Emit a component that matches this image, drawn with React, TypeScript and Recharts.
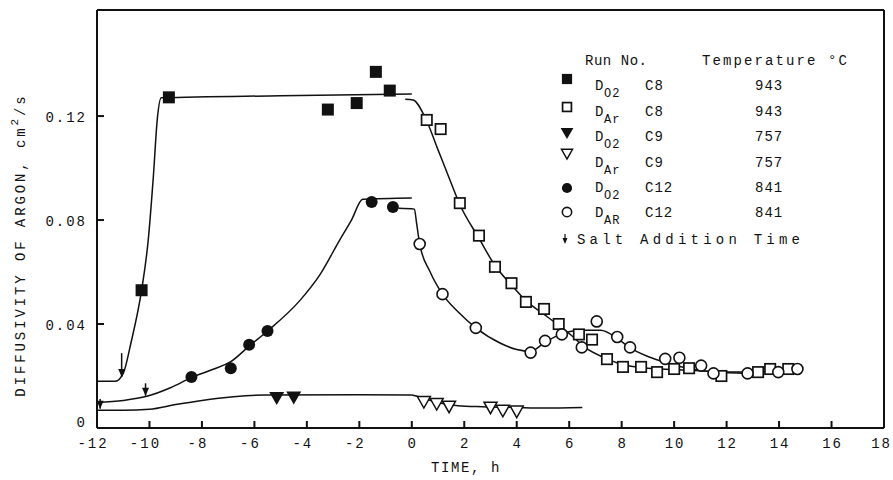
import React from 'react';
import { ComposedChart, Line, Scatter, XAxis, YAxis, Legend } from 'recharts';

// axis ticks
const xTicks = [-12, -10, -8, -6, -4, -2, 0, 2, 4, 6, 8, 10, 12, 14, 16, 18];
const topTicks = [-10, -8, -6, -4, -2, 0, 2, 4, 6, 8, 10, 12, 14, 16];
const yTicks = [0, 0.04, 0.08, 0.12];
const rightTicks = [0.04, 0.08, 0.12];

// measured points (time h, diffusivity cm2/s)
const c8O2Points = [
  { x: -10.3, y: 0.053 },
  { x: -9.26, y: 0.1272 },
  { x: -3.2, y: 0.1225 },
  { x: -2.1, y: 0.125 },
  { x: -1.37, y: 0.137 },
  { x: -0.84, y: 0.1298 },
];
const c8ArPoints = [
  { x: 0.57, y: 0.1185 },
  { x: 1.1, y: 0.115 },
  { x: 1.83, y: 0.0865 },
  { x: 2.56, y: 0.074 },
  { x: 3.17, y: 0.062 },
  { x: 3.8, y: 0.0557 },
  { x: 4.35, y: 0.0485 },
  { x: 5.04, y: 0.0458 },
  { x: 5.6, y: 0.04 },
  { x: 6.37, y: 0.036 },
  { x: 6.87, y: 0.034 },
  { x: 7.44, y: 0.0265 },
  { x: 8.05, y: 0.0235 },
  { x: 8.74, y: 0.0235 },
  { x: 9.35, y: 0.0215 },
  { x: 10.0, y: 0.0227 },
  { x: 10.57, y: 0.023 },
  { x: 11.8, y: 0.02 },
  { x: 13.2, y: 0.0215 },
  { x: 13.66, y: 0.0227 },
  { x: 14.35, y: 0.0227 },
];
const c9O2Points = [
  { x: -5.15, y: 0.0115 },
  { x: -4.5, y: 0.0117 },
];
const c9ArPoints = [
  { x: 0.46, y: 0.01 },
  { x: 0.95, y: 0.0092 },
  { x: 1.42, y: 0.0082 },
  { x: 3.0, y: 0.0078 },
  { x: 3.47, y: 0.0066 },
  { x: 4.0, y: 0.0063 },
];
const c12O2Points = [
  { x: -8.4, y: 0.0196 },
  { x: -6.9, y: 0.023 },
  { x: -6.2, y: 0.032 },
  { x: -5.5, y: 0.0373 },
  { x: -1.53, y: 0.0869 },
  { x: -0.72, y: 0.085 },
];
const c12ArPoints = [
  { x: 0.3, y: 0.0708 },
  { x: 1.17, y: 0.0515 },
  { x: 2.44, y: 0.0385 },
  { x: 4.53, y: 0.029 },
  { x: 5.08, y: 0.0335 },
  { x: 5.72, y: 0.036 },
  { x: 6.48, y: 0.031 },
  { x: 7.05, y: 0.041 },
  { x: 7.83, y: 0.035 },
  { x: 8.32, y: 0.031 },
  { x: 9.66, y: 0.0266 },
  { x: 10.2, y: 0.027 },
  { x: 11.03, y: 0.024 },
  { x: 11.5, y: 0.021 },
  { x: 12.8, y: 0.021 },
  { x: 13.97, y: 0.0215 },
  { x: 14.7, y: 0.0227 },
];

// hand-drawn fit curves
const c8O2Curve = [
  { x: -12, y: 0.0180 }, { x: -11.3, y: 0.0180 }, { x: -11.0, y: 0.021 },
  { x: -10.7, y: 0.033 }, { x: -10.3, y: 0.053 }, { x: -10.05, y: 0.072 },
  { x: -9.85, y: 0.097 }, { x: -9.7, y: 0.119 }, { x: -9.55, y: 0.127 },
  { x: -5, y: 0.1278 }, { x: 0, y: 0.1285 },
];
const c8ArCurve = [
  { x: -0.25, y: 0.1265 }, { x: 0.05, y: 0.1262 }, { x: 0.55, y: 0.1185 },
  { x: 1.0, y: 0.107 }, { x: 1.45, y: 0.0955 }, { x: 1.83, y: 0.086 },
  { x: 2.56, y: 0.073 }, { x: 3.17, y: 0.0625 }, { x: 3.8, y: 0.055 },
  { x: 4.4, y: 0.0485 }, { x: 5.0, y: 0.044 }, { x: 5.6, y: 0.0395 },
  { x: 6.1, y: 0.0355 }, { x: 6.6, y: 0.031 }, { x: 7.4, y: 0.0268 },
  { x: 8.0, y: 0.0245 }, { x: 9.0, y: 0.023 }, { x: 10.0, y: 0.0225 },
  { x: 11.0, y: 0.022 }, { x: 12.5, y: 0.0215 }, { x: 14.5, y: 0.022 },
];
const c9O2Curve = [
  { x: -12, y: 0.0068 }, { x: -11, y: 0.0068 }, { x: -10, y: 0.0072 },
  { x: -9, y: 0.009 }, { x: -8, y: 0.0106 }, { x: -6.8, y: 0.012 },
  { x: -5.6, y: 0.0127 }, { x: -2, y: 0.0128 }, { x: 0, y: 0.0127 },
];
const c9ArCurve = [
  { x: 0, y: 0.0127 }, { x: 0.5, y: 0.0113 }, { x: 1.0, y: 0.0098 },
  { x: 1.76, y: 0.0086 }, { x: 2.7, y: 0.0082 }, { x: 4.0, y: 0.0079 },
  { x: 5.0, y: 0.0077 }, { x: 6.5, y: 0.0079 },
];
const c12O2Curve = [
  { x: -12, y: 0.0098 }, { x: -11, y: 0.0106 }, { x: -10.1, y: 0.0122 },
  { x: -9.2, y: 0.0155 }, { x: -8.4, y: 0.0194 }, { x: -7.6, y: 0.0225 },
  { x: -6.9, y: 0.0255 }, { x: -6.2, y: 0.0315 }, { x: -5.5, y: 0.0373 },
  { x: -4.27, y: 0.049 }, { x: -3.5, y: 0.059 }, { x: -2.75, y: 0.0723 },
  { x: -2.3, y: 0.080 }, { x: -1.87, y: 0.088 }, { x: 0, y: 0.0885 },
];
const c12ArCurve = [
  { x: -0.5, y: 0.0845 }, { x: 0.1, y: 0.0842 }, { x: 0.18, y: 0.079 },
  { x: 0.3, y: 0.0708 }, { x: 0.7, y: 0.06 }, { x: 1.17, y: 0.0515 },
  { x: 1.8, y: 0.0443 }, { x: 2.44, y: 0.0385 }, { x: 3.4, y: 0.0325 },
  { x: 4.0, y: 0.0302 }, { x: 4.53, y: 0.0295 }, { x: 5.08, y: 0.033 },
  { x: 5.72, y: 0.0362 }, { x: 6.4, y: 0.0376 }, { x: 7.2, y: 0.0376 },
  { x: 7.83, y: 0.0345 }, { x: 8.32, y: 0.0308 }, { x: 9.0, y: 0.0275 },
  { x: 9.66, y: 0.0252 }, { x: 10.5, y: 0.023 }, { x: 11.5, y: 0.0215 },
  { x: 12.8, y: 0.021 },
];

// salt addition arrows: tail then tip
const saltC8 = [{ x: -11.06, y: 0.0288 }, { x: -11.06, y: 0.0196 }];
const saltC12 = [{ x: -10.15, y: 0.0172 }, { x: -10.15, y: 0.0124 }];
const saltC9 = [{ x: -11.88, y: 0.0112 }, { x: -11.88, y: 0.0074 }];

// legend table
const legendSubs = ['O2', 'Ar', 'O2', 'Ar', 'O2', 'AR'];
const legendRuns = ['C8', 'C8', 'C9', 'C9', 'C12', 'C12'];
const legendTemps = ['943', '943', '757', '757', '841', '841'];
const legendKinds = ['filledSquare', 'openSquare', 'filledTriangle', 'openTriangle', 'filledCircle', 'openCircle'];

const INK = '#111';
const FONT = "'Liberation Mono', 'DejaVu Sans Mono', monospace";

function Marker({ kind, cx, cy, k = 1 }: { kind: string; cx: number; cy: number; k?: number }) {
  switch (kind) {
    case 'filledSquare':
      return <rect x={cx - 6 * k} y={cy - 6 * k} width={12 * k} height={12 * k} fill={INK} />;
    case 'openSquare':
      return <rect x={cx - 5.2 * k} y={cy - 5.2 * k} width={10.4 * k} height={10.4 * k} fill="#fff" stroke={INK} strokeWidth={1.7} />;
    case 'filledTriangle':
      return <polygon points={`${cx - 7.5 * k},${cy - 6 * k} ${cx + 7.5 * k},${cy - 6 * k} ${cx},${cy + 7 * k}`} fill={INK} />;
    case 'openTriangle':
      return <polygon points={`${cx - 6.5 * k},${cy - 5.5 * k} ${cx + 6.5 * k},${cy - 5.5 * k} ${cx},${cy + 6 * k}`} fill="#fff" stroke={INK} strokeWidth={1.5} />;
    case 'filledCircle':
      return <circle cx={cx} cy={cy} r={6 * k} fill={INK} />;
    default:
      return <circle cx={cx} cy={cy} r={5.5 * k} fill="#fff" stroke={INK} strokeWidth={1.6} />;
  }
}

const shapeOf = (kind: string) => (p: any) => <Marker kind={kind} cx={p.cx} cy={p.cy} />;

const arrowHead = (p: any) =>
  p.index === 1 ? (
    <polygon key={`a${p.index}`} points={`${p.cx - 3.5},${p.cy - 8} ${p.cx + 3.5},${p.cy - 8} ${p.cx},${p.cy}`} fill={INK} />
  ) : (
    <g key={`a${p.index}`} />
  );

const textStyle = { fontFamily: FONT, fontSize: 14, letterSpacing: 2, fill: INK };

const BottomTick = ({ x, y, payload }: any) => {
  const last = payload.value === xTicks[xTicks.length - 1];
  return (
    <g>
      <line x1={x} x2={x} y1={y} y2={y - 7} stroke={INK} strokeWidth={2} />
      <text x={last ? x + 8 : payload.value < 0 ? x - 4 : x + 1} y={y + 20}
        textAnchor={last ? 'end' : 'middle'} style={textStyle}>
        {payload.value}
      </text>
    </g>
  );
};
const TopTick = ({ x, y }: any) => <line x1={x} x2={x} y1={y} y2={y + 7} stroke={INK} strokeWidth={2} />;
const LeftTick = ({ x, y, payload }: any) => (
  <g>
    <line x1={x} x2={x + 7} y1={y} y2={y} stroke={INK} strokeWidth={2} />
    <text x={x - 10} y={payload.value === 0 ? y - 1 : y + 6} textAnchor="end" style={textStyle}>
      {payload.value === 0 ? '0' : payload.value.toFixed(2)}
    </text>
  </g>
);
const RightTick = ({ x, y }: any) => <line x1={x} x2={x - 7} y1={y} y2={y} stroke={INK} strokeWidth={2} />;

const YTitle = () => (
  <text x={25} y={245} transform="rotate(-90, 25, 245)" textAnchor="middle" style={{ ...textStyle, letterSpacing: 2.9 }}>
    DIFFUSIVITY OF ARGON, cm
    <tspan dy={-7} fontSize={11}>2</tspan>
    <tspan dy={7}>/s</tspan>
  </text>
);
const XTitle = () => (
  <text x={466} y={472} textAnchor="middle" style={{ ...textStyle, letterSpacing: 1.6 }}>
    TIME, h
  </text>
);

const rowMarkerY = [34, 62, 88, 109, 143, 167];
const rowBase = [45, 71, 96, 122, 147, 172];

function LegendBox() {
  const t = { fontFamily: FONT, fontSize: 14, fill: INK };
  return (
    <svg width={310} height={210} style={{ display: 'block', overflow: 'visible' }}>
      <text x={30} y={20} style={t} textLength={62} lengthAdjust="spacing">Run No.</text>
      <text x={147} y={20} style={t} textLength={145} lengthAdjust="spacing">Temperature °C</text>
      {legendKinds.map((kind, i) => (
        <g key={kind}>
          <Marker kind={kind} cx={12} cy={rowMarkerY[i]} k={0.85} />
          <text x={40} y={rowBase[i]} style={t}>D</text>
          <text x={49} y={rowBase[i] + 7} style={{ ...t, fontSize: 12, letterSpacing: 1 }}>{legendSubs[i]}</text>
          <text x={90} y={rowBase[i]} style={{ ...t, letterSpacing: 1 }}>{legendRuns[i]}</text>
          <text x={200} y={rowBase[i]} style={{ ...t, letterSpacing: 1 }}>{legendTemps[i]}</text>
        </g>
      ))}
      <line x1={10} x2={10} y1={189} y2={197} stroke={INK} strokeWidth={1.2} />
      <polygon points="7.5,193 12.5,193 10,199" fill={INK} />
      <text x={22} y={199} style={t} textLength={223} lengthAdjust="spacing">Salt Addition Time</text>
    </svg>
  );
}

const curve = (data: any[], key: string) => (
  <Line key={key} data={data} dataKey="y" type="monotone" stroke={INK} strokeWidth={1.5} dot={false} activeDot={false} isAnimationActive={false} />
);
const arrow = (data: any[], key: string) => (
  <Line key={key} data={data} dataKey="y" type="linear" stroke={INK} strokeWidth={1.5} dot={arrowHead} activeDot={false} isAnimationActive={false} />
);

const axisLine = { stroke: INK, strokeWidth: 2 };

export default function App() {
  return (
    <div style={{ position: 'absolute', left: 0, top: 0, width: 893, height: 480, background: '#fff' }}>
      <ComposedChart width={893} height={480} margin={{ top: 9, right: 8, bottom: 51, left: 96 }}>
        <XAxis xAxisId={0} dataKey="x" type="number" domain={[-12, 18]} ticks={xTicks} tick={BottomTick}
          tickLine={false} tickSize={0} tickMargin={0} height={1} axisLine={axisLine}
          allowDataOverflow label={<XTitle />} interval={0} />
        <XAxis xAxisId="top" orientation="top" dataKey="x" type="number" domain={[-12, 18]} ticks={topTicks}
          tick={TopTick} tickLine={false} tickSize={0} tickMargin={0} height={1} axisLine={axisLine} interval={0} />
        <YAxis yAxisId={0} dataKey="y" type="number" domain={[0, 0.1608]} ticks={yTicks} tick={LeftTick}
          tickLine={false} tickSize={0} tickMargin={0} width={1} axisLine={axisLine}
          allowDataOverflow label={<YTitle />} interval={0} />
        <YAxis yAxisId="right" orientation="right" dataKey="y" type="number" domain={[0, 0.1608]} ticks={rightTicks}
          tick={RightTick} tickLine={false} tickSize={0} tickMargin={0} width={1} axisLine={axisLine} interval={0} />
        {curve(c8O2Curve, 'c8o2')}
        {curve(c8ArCurve, 'c8ar')}
        {curve(c9O2Curve, 'c9o2')}
        {curve(c9ArCurve, 'c9ar')}
        {curve(c12O2Curve, 'c12o2')}
        {curve(c12ArCurve, 'c12ar')}
        {arrow(saltC8, 's8')}
        {arrow(saltC12, 's12')}
        {arrow(saltC9, 's9')}
        <Scatter data={c8O2Points} dataKey="y" shape={shapeOf('filledSquare')} isAnimationActive={false} />
        <Scatter data={c8ArPoints} dataKey="y" shape={shapeOf('openSquare')} isAnimationActive={false} />
        <Scatter data={c9O2Points} dataKey="y" shape={shapeOf('filledTriangle')} isAnimationActive={false} />
        <Scatter data={c9ArPoints} dataKey="y" shape={shapeOf('openTriangle')} isAnimationActive={false} />
        <Scatter data={c12O2Points} dataKey="y" shape={shapeOf('filledCircle')} isAnimationActive={false} />
        <Scatter data={c12ArPoints} dataKey="y" shape={shapeOf('openCircle')} isAnimationActive={false} />
        <Legend layout="vertical" align="center" verticalAlign="middle" content={<LegendBox />}
          wrapperStyle={{ position: 'absolute', left: 555, top: 45, width: 310, height: 210 }} />
      </ComposedChart>
    </div>
  );
}
